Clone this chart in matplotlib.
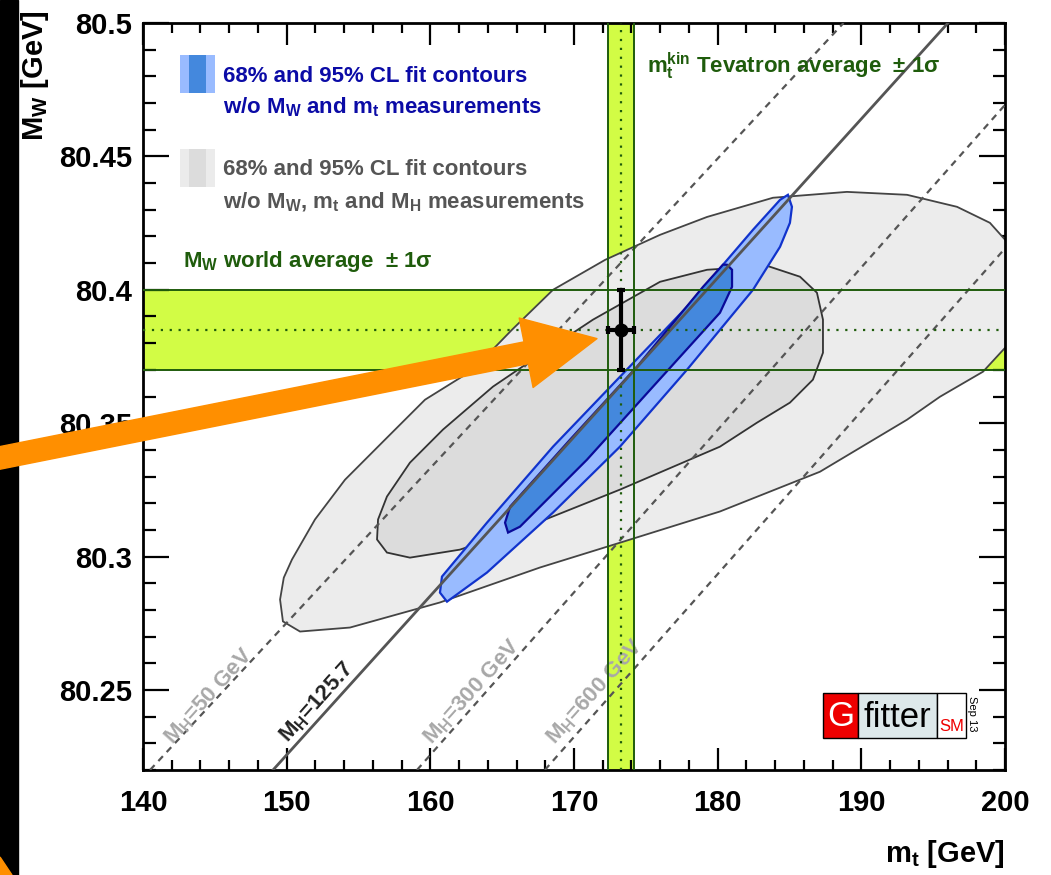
import matplotlib
matplotlib.use("Agg")
import matplotlib.pyplot as plt
from matplotlib.patches import Rectangle, Polygon
from matplotlib.ticker import MultipleLocator, FuncFormatter

# ---- data (mt [GeV], MW [GeV]) ----
# 95% CL fit contour w/o MW, mt and MH
gray95_mt = [149.74, 149.54, 149.80, 150.37, 151.97, 154.06, 156.84, 159.63, 162.97, 165.68, 168.54,
             172.16, 175.99, 179.26, 183.85, 189.00, 193.18, 196.66, 198.95, 200.20, 200.20,
             198.47, 195.47, 193.18, 187.12, 180.16, 173.20, 167.63, 160.67, 154.41, 150.93]
gray95_mw = [80.2757, 80.2839, 80.2921, 80.2989, 80.3139, 80.3288, 80.3438, 80.3588, 80.3700, 80.3850,
             80.4000, 80.4112, 80.4206, 80.4273, 80.4345, 80.4367, 80.4356, 80.4311, 80.4251, 80.4176,
             80.3794, 80.3693, 80.3599, 80.3513, 80.3318, 80.3169, 80.3052, 80.2959, 80.2828, 80.2734,
             80.2719]
# 68% CL fit contour w/o MW, mt and MH
gray68_mt = [156.29, 156.36, 156.98, 158.58, 160.88, 164.36, 167.84, 171.32, 175.99, 179.26,
             183.43, 185.73, 186.91, 187.33, 187.33, 186.63, 185.03, 182.74, 180.16, 173.20,
             166.24, 162.06, 158.58, 156.98]
gray68_mw = [80.3064, 80.3139, 80.3225, 80.3352, 80.3476, 80.3637, 80.3764, 80.3888, 80.4030, 80.4075,
             80.4090, 80.4049, 80.3989, 80.3888, 80.3764, 80.3663, 80.3577, 80.3502, 80.3412, 80.3251,
             80.3101, 80.3026, 80.2996, 80.3015]
# 95% / 68% CL fit contours w/o MW and mt
blue95_mt = [184.89, 185.17, 185.03, 184.34, 182.46, 177.86, 173.20, 168.54, 163.94, 161.16,
             160.67, 160.81, 163.94, 168.54, 173.20, 177.86, 182.46, 184.34]
blue95_mw = [80.4356, 80.4311, 80.4251, 80.4161, 80.4000, 80.3700, 80.3412, 80.3165, 80.2940, 80.2831,
             80.2865, 80.2925, 80.3127, 80.3412, 80.3674, 80.3936, 80.4225, 80.4337]
blue68_mt = [180.65, 181.00, 181.00, 180.16, 175.50, 170.90, 166.24, 165.41, 165.20, 165.55,
             169.72, 174.39, 178.98, 180.37]
blue68_mw = [80.4094, 80.4075, 80.4011, 80.3914, 80.3637, 80.3363, 80.3112, 80.3090, 80.3127, 80.3187,
             80.3438, 80.3712, 80.4011, 80.4094]

# SM lines for fixed Higgs mass: end points
mh_labels = [r"M$_{\mathbf{H}}$=50 GeV", r"M$_{\mathbf{H}}$=125.7",
             r"M$_{\mathbf{H}}$=300 GeV", r"M$_{\mathbf{H}}$=600 GeV"]
mh_mt = [(140.49, 188.76), (149.05, 196.03), (159.07, 200.0), (167.97, 200.0)]
mh_mw = [(80.22, 80.50), (80.22, 80.50), (80.22, 80.4693), (80.22, 80.4155)]
mh_label_mt = [144.6, 152.1, 162.9, 171.5]
mh_label_mw = [80.2475, 80.2455, 80.2494, 80.2494]

# measurements
mw_avg, mw_err = 80.385, 0.015
mt_tev, mt_err = 173.25, 0.9

BAND = "#d2fc45"
DKGREEN = "#1f5c0c"

plt.rcParams["font.family"] = ["Liberation Sans", "DejaVu Sans"]
plt.rcParams["mathtext.fontset"] = "custom"
plt.rcParams["mathtext.rm"] = "Liberation Sans"
plt.rcParams["mathtext.bf"] = "Liberation Sans:bold"
plt.rcParams["mathtext.it"] = "Liberation Sans:italic"

fig = plt.figure(figsize=(10.51, 8.75), dpi=100)
ax = fig.add_axes([143 / 1051, 1 - 770 / 875, 862 / 1051, 747 / 875])
ax.set_xlim(140, 200)
ax.set_ylim(80.22, 80.5)

# bands
ax.axhspan(mw_avg - mw_err, mw_avg + mw_err, color=BAND, lw=0, zorder=1)
ax.axvspan(mt_tev - mt_err, mt_tev + mt_err, color=BAND, lw=0, zorder=1)

# contours
ax.fill(gray95_mt, gray95_mw, facecolor="#ececec", edgecolor="#444444", lw=1.3, zorder=2)
ax.fill(gray68_mt, gray68_mw, facecolor="#dcdcdc", edgecolor="#333333", lw=1.3, zorder=3)
ax.fill(blue95_mt, blue95_mw, facecolor="#99bbff", edgecolor="#1133cc", lw=1.6, zorder=4)
ax.fill(blue68_mt, blue68_mw, facecolor="#4488dd", edgecolor="#0a0a99", lw=1.6, zorder=5)

# Higgs mass lines
for i, (xs, ys) in enumerate(zip(mh_mt, mh_mw)):
    if i == 1:
        ax.plot(xs, ys, color="#555555", lw=2, zorder=6)
    else:
        ax.plot(xs, ys, color="#555555", lw=1.6, ls=(0, (3, 2.5)), zorder=6)
for i, lab in enumerate(mh_labels):
    ax.text(mh_label_mt[i], mh_label_mw[i], lab, rotation=48, ha="center", va="center",
            fontsize=16, fontweight="bold", color="#222222" if i == 1 else "#a8a8a8", zorder=6)

# band edges and centre lines
for v in (mw_avg - mw_err, mw_avg + mw_err):
    ax.axhline(v, color=DKGREEN, lw=1.4, zorder=7)
for v in (mt_tev - mt_err, mt_tev + mt_err):
    ax.axvline(v, color=DKGREEN, lw=1.4, zorder=7)
ax.axhline(mw_avg, color=DKGREEN, lw=1.6, ls=(0, (1, 3)), zorder=7)
ax.axvline(mt_tev, color=DKGREEN, lw=1.6, ls=(0, (1, 3)), zorder=7)

# measurement point
ax.errorbar(mt_tev, mw_avg, xerr=mt_err, yerr=mw_err, fmt="o", color="black", ms=9,
            elinewidth=3, capsize=3, capthick=3, zorder=10)

# axes styling (ROOT-like)
ax.xaxis.set_major_locator(MultipleLocator(10))
ax.xaxis.set_minor_locator(MultipleLocator(2))
ax.yaxis.set_major_locator(MultipleLocator(0.05))
ax.yaxis.set_minor_locator(MultipleLocator(0.01))
ax.yaxis.set_major_formatter(FuncFormatter(lambda v, p: f"{v:g}"))
ax.tick_params(which="both", direction="in", top=True, right=True, width=1.6, color="black")
ax.tick_params(axis="y", which="major", length=19, labelsize=21, pad=8)
ax.tick_params(axis="y", which="minor", length=9)
ax.tick_params(axis="x", which="major", length=16, labelsize=21, pad=14)
ax.tick_params(axis="x", which="minor", length=7.5)
for lab in ax.get_xticklabels() + ax.get_yticklabels():
    lab.set_fontweight("bold")
for sp in ax.spines.values():
    sp.set_linewidth(2)

fig.text(1005 / 1051, 1 - 862 / 875, r"m$_{\mathbf{t}}$ [GeV]", ha="right", va="baseline",
         fontsize=21, fontweight="bold")
fig.text(35 / 1051, 1 - 10 / 875, r"M$_{\mathbf{W}}$ [GeV]", rotation=90, ha="center", va="top",
         fontsize=21, fontweight="bold")

# legend-like labels
ax.add_patch(Rectangle((0.0429, 0.9063), 0.0105, 0.0509, transform=ax.transAxes, color="#99bbff", lw=0, zorder=8))
ax.add_patch(Rectangle((0.0534, 0.9063), 0.0197, 0.0509, transform=ax.transAxes, color="#4488dd", lw=0, zorder=8))
ax.add_patch(Rectangle((0.0731, 0.9063), 0.0104, 0.0509, transform=ax.transAxes, color="#99bbff", lw=0, zorder=8))
ax.add_patch(Rectangle((0.0429, 0.7805), 0.0105, 0.0508, transform=ax.transAxes, color="#ebebeb", lw=0, zorder=8))
ax.add_patch(Rectangle((0.0534, 0.7805), 0.0197, 0.0508, transform=ax.transAxes, color="#dcdcdc", lw=0, zorder=8))
ax.add_patch(Rectangle((0.0731, 0.7805), 0.0104, 0.0508, transform=ax.transAxes, color="#ebebeb", lw=0, zorder=8))

txt = dict(transform=ax.transAxes, fontsize=16, fontweight="bold", va="baseline", ha="left", zorder=8)
ax.text(0.0928, 0.921, "68% and 95% CL fit contours", color="#0b0ba6", **txt)
ax.text(0.0928, 0.8795, r"w/o M$_{\mathbf{W}}$ and m$_{\mathbf{t}}$ measurements", color="#0b0ba6", **txt)
ax.text(0.0928, 0.7965, "68% and 95% CL fit contours", color="#555555", **txt)
ax.text(0.0928, 0.7523, r"w/o M$_{\mathbf{W}}$, m$_{\mathbf{t}}$ and M$_{\mathbf{H}}$ measurements",
        color="#555555", **txt)
ax.text(0.0464, 0.6734, r"M$_{\mathbf{W}}$ world average  ± 1σ", color=DKGREEN, **txt)
ax.text(0.5847, 0.933, r"m$_{\mathbf{t}}^{\mathbf{kin}}$ Tevatron average  ± 1σ", color=DKGREEN, **txt)

# Gfitter logo
ax.add_patch(Rectangle((0.789, 0.0428), 0.040, 0.0603, transform=ax.transAxes, facecolor="#ee0000",
                       edgecolor="black", lw=1, zorder=9))
ax.add_patch(Rectangle((0.829, 0.0428), 0.092, 0.0603, transform=ax.transAxes, facecolor="#dde8ea",
                       edgecolor="black", lw=1, zorder=9))
ax.add_patch(Rectangle((0.921, 0.0428), 0.034, 0.0603, transform=ax.transAxes, facecolor="white",
                       edgecolor="black", lw=1, zorder=9))
ax.text(0.809, 0.072, "G", transform=ax.transAxes, ha="center", va="center", fontsize=25,
        color="white", zorder=10)
ax.text(0.875, 0.070, "fitter", transform=ax.transAxes, ha="center", va="center", fontsize=25,
        color="black", zorder=10)
ax.text(0.938, 0.058, "SM", transform=ax.transAxes, ha="center", va="center", fontsize=12,
        color="#ee0000", zorder=10)
ax.text(0.962, 0.075, "Sep 13", transform=ax.transAxes, ha="center", va="center", fontsize=8,
        rotation=-90, color="black", zorder=10)

# overlay decorations: dark strip and orange arrow
fig.patches.append(Rectangle((0, 0), 18 / 1051, 1, transform=fig.transFigure, color="black", zorder=-1))
ax.add_patch(Polygon([(0, 18 / 875), (12 / 1051, 0), (0, 0)], closed=True,
                     transform=fig.transFigure, color="#ff8f00", clip_on=False, zorder=20))
ax.annotate("", xy=(171.6, 80.3817), xycoords="data",
            xytext=(-0.01, 1 - 460 / 875), textcoords="figure fraction",
            arrowprops=dict(arrowstyle="simple,head_length=52,head_width=51,tail_width=16",
                            mutation_scale=1, color="#ff8f00", shrinkA=0, shrinkB=0),
            annotation_clip=False, zorder=20)

fig.savefig("out.png", dpi=100)
